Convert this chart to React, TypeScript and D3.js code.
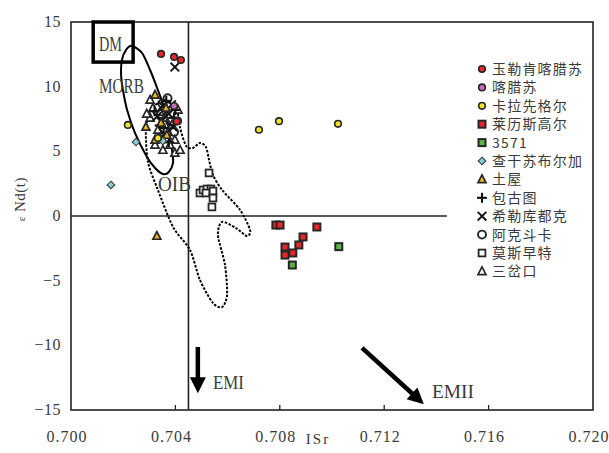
import React from "react";
import * as d3 from "d3";

// ISr vs εNd(t) diagram with mantle end-member fields
const W = 609;
const H = 453;

const xTicks = [0.7, 0.704, 0.708, 0.712, 0.716, 0.72];
const yTicks = [15, 10, 5, 0, -5, -10, -15];

type Pt = [number, number];

// sample groups: [ISr, εNd(t)]
const yulekenKalasu: Pt[] = [[0.70345, 12.53], [0.70395, 12.3], [0.70421, 12.06], [0.70405, 7.3]];
const kalasu: Pt[] = [[0.7041, 7.35], [0.70395, 8.5]];
const kalaxiangeer: Pt[] = [[0.70218, 7.04], [0.7072, 6.67], [0.70797, 7.33], [0.71023, 7.13], [0.70333, 6.03]];
const lailisigaoer: Pt[] = [[0.70785, -0.7], [0.70801, -0.7], [0.70942, -0.85], [0.70889, -1.62], [0.7082, -2.4], [0.70873, -2.24], [0.7082, -3.02], [0.7085, -2.86]];
const s3571: Pt[] = [[0.71026, -2.37], [0.70848, -3.79]];
const chagansubuerjia: Pt[] = [[0.70153, 2.4], [0.70249, 5.72], [0.70394, 8.5], [0.70352, 5.8]];
const tuwu: Pt[] = [[0.70322, 9.36], [0.70287, 6.88], [0.70364, 8.35], [0.70341, 6.03], [0.70322, 5.88], [0.70367, 6.26], [0.70329, -1.55], [0.70345, 7.2]];
const baogutu: Pt[] = [[0.70365, 8.9], [0.7034, 7.0], [0.70395, 7.6], [0.70355, 6.8], [0.70375, 5.7], [0.7032, 8.1], [0.704, 8.2]];
const xilekuduke: Pt[] = [[0.70398, 11.52], [0.70352, 8.5], [0.70375, 7.9], [0.70345, 7.3], [0.7039, 6.9], [0.7036, 6.3], [0.7033, 7.7], [0.70385, 8.6]];
const akedouka: Pt[] = [[0.7037, 9.1], [0.70345, 7.9], [0.7038, 7.3], [0.7036, 6.0], [0.70395, 6.5], [0.7035, 8.7]];
const mosizaote: Pt[] = [[0.70529, 3.33], [0.70494, 1.78], [0.70506, 2.01], [0.70521, 2.09], [0.70536, 2.09], [0.70544, 1.93], [0.70517, 1.78], [0.70544, 1.39], [0.7054, 0.7]];
const sanchakou: Pt[] = [[0.70314, 8.35], [0.70341, 8.04], [0.70303, 7.58], [0.7036, 7.58], [0.70387, 7.04], [0.70333, 6.65], [0.70372, 6.5], [0.70398, 5.88], [0.70352, 5.1], [0.70398, 4.87], [0.70379, 5.49], [0.70322, 5.49], [0.70418, 5.1], [0.7041, 8.2], [0.70303, 8.97], [0.7029, 7.9]];

type Shape = "circle" | "square" | "diamond" | "triangle" | "plus" | "x" | "ocircle" | "osquare" | "otriangle";

interface Series { name: string; shape: Shape; fill: string; data: Pt[] }

const seriesList: Series[] = [
  { name: "玉勒肯喀腊苏", shape: "circle", fill: "#e8262c", data: yulekenKalasu },
  { name: "喀腊苏", shape: "circle", fill: "#c86ac0", data: kalasu },
  { name: "卡拉先格尔", shape: "circle", fill: "#f2e42a", data: kalaxiangeer },
  { name: "莱历斯高尔", shape: "square", fill: "#e8262c", data: lailisigaoer },
  { name: "3571", shape: "square", fill: "#5cb444", data: s3571 },
  { name: "查干苏布尔加", shape: "diamond", fill: "#86cfd6", data: chagansubuerjia },
  { name: "土屋", shape: "triangle", fill: "#e9b820", data: tuwu },
  { name: "包古图", shape: "plus", fill: "none", data: baogutu },
  { name: "希勒库都克", shape: "x", fill: "none", data: xilekuduke },
  { name: "阿克斗卡", shape: "ocircle", fill: "#ffffff", data: akedouka },
  { name: "莫斯早特", shape: "osquare", fill: "#ffffff", data: mosizaote },
  { name: "三岔口", shape: "otriangle", fill: "#ffffff", data: sanchakou },
];

// field outlines
const morbField: Pt[] = [
  [0.70234, 13.15], [0.70272, 12.61], [0.70303, 11.29], [0.70333, 9.74], [0.7036, 8.2], [0.70375, 6.65],
  [0.70387, 5.1], [0.70391, 4.1], [0.70375, 3.4], [0.70352, 3.25], [0.70322, 3.71], [0.70291, 4.56],
  [0.70245, 6.42], [0.70215, 8.2], [0.70199, 9.74], [0.70192, 10.9], [0.70195, 12.06], [0.70211, 12.84],
];
const oibField: Pt[] = [
  [0.70303, 8.04], [0.70329, 8.66], [0.70372, 8.82], [0.70406, 8.2], [0.70418, 6.81], [0.70441, 5.41],
  [0.70467, 5.26], [0.70494, 5.65], [0.70517, 5.34], [0.70529, 4.33], [0.70544, 3.17], [0.70579, 2.01],
  [0.70648, 0.46], [0.70686, -1.08], [0.70674, -1.55], [0.70632, -0.93], [0.70579, -0.46], [0.70563, -1.47],
  [0.7059, -3.79], [0.70598, -6.11], [0.70579, -7.04], [0.70544, -6.73], [0.70494, -4.95], [0.70456, -2.63],
  [0.70391, -0.85], [0.70333, 2.01], [0.70295, 4.18], [0.70287, 6.65],
];
const dmBox: [Pt, Pt] = [[0.70085, 15.0], [0.70238, 11.9]];

const emiArrow: [Pt, Pt] = [[0.70486, -10.13], [0.70486, -13.7]];
const emiiArrow: [Pt, Pt] = [[0.71115, -10.2], [0.71352, -14.55]];

const x = d3.scaleLinear().domain([0.7, 0.72]).range([71, 593]);
const y = d3.scaleLinear().domain([-15, 15]).range([410, 22]);

const TEXT = "#3a3a3a";
const SERIF = "'Liberation Serif', 'DejaVu Serif', serif";
const CJK = "'Noto Sans CJK SC', sans-serif";
const STROKE = "#262626";

function Marker({ shape, fill, cx, cy }: { shape: Shape; fill: string; cx: number; cy: number }) {
  switch (shape) {
    case "circle":
      return <circle cx={cx} cy={cy} r={3.3} fill={fill} stroke={STROKE} strokeWidth={1.6} />;
    case "ocircle":
      return <circle cx={cx} cy={cy} r={4} fill="none" stroke={STROKE} strokeWidth={1.9} />;
    case "square":
      return <rect x={cx - 3.5} y={cy - 3.5} width={7} height={7} fill={fill} stroke={STROKE} strokeWidth={2} />;
    case "osquare":
      return <rect x={cx - 3.4} y={cy - 3.4} width={6.8} height={6.8} fill="#fff" stroke={STROKE} strokeWidth={1.8} />;
    case "diamond":
      return <path d={`M${cx},${cy - 3.8}L${cx + 3.8},${cy}L${cx},${cy + 3.8}L${cx - 3.8},${cy}Z`} fill={fill} stroke="#3a3a3a" strokeWidth={1.1} />;
    case "triangle":
      return <path d={`M${cx},${cy - 4.5}L${cx + 4},${cy + 3.2}L${cx - 4},${cy + 3.2}Z`} fill={fill} stroke={STROKE} strokeWidth={1.7} />;
    case "otriangle":
      return <path d={`M${cx},${cy - 4.5}L${cx + 4},${cy + 3.2}L${cx - 4},${cy + 3.2}Z`} fill="#fff" stroke={STROKE} strokeWidth={1.7} />;
    case "plus":
      return (
        <g stroke="#111" strokeWidth={2.1}>
          <line x1={cx - 5} x2={cx + 5} y1={cy} y2={cy} />
          <line x1={cx} x2={cx} y1={cy - 5} y2={cy + 5} />
        </g>
      );
    case "x":
      return (
        <g stroke="#111" strokeWidth={1.9}>
          <line x1={cx - 4.3} x2={cx + 4.3} y1={cy - 4.3} y2={cy + 4.3} />
          <line x1={cx - 4.3} x2={cx + 4.3} y1={cy + 4.3} y2={cy - 4.3} />
        </g>
      );
  }
  return null;
}

function Arrow({ seg }: { seg: [Pt, Pt] }) {
  const x1 = x(seg[0][0]), y1 = y(seg[0][1]);
  const x2 = x(seg[1][0]), y2 = y(seg[1][1]);
  const ang = Math.atan2(y2 - y1, x2 - x1);
  const headLen = 16, headHalf = 8;
  const bx = x2 - headLen * Math.cos(ang), by = y2 - headLen * Math.sin(ang);
  const px = -Math.sin(ang) * headHalf, py = Math.cos(ang) * headHalf;
  return (
    <g>
      <line x1={x1} y1={y1} x2={bx + Math.cos(ang) * 2} y2={by + Math.sin(ang) * 2} stroke="#000" strokeWidth={4.5} />
      <path d={`M${x2},${y2}L${bx + px},${by + py}L${bx - px},${by - py}Z`} fill="#000" />
    </g>
  );
}

export default function App() {
  const closed = d3
    .line<Pt>()
    .x((d) => x(d[0]))
    .y((d) => y(d[1]))
    .curve(d3.curveCardinalClosed.tension(0.2));

  const legendX = 482;
  const legendY0 = 69;
  const legendStep = 18.4;

  // draw order: the open symbols first, filled ones on top
  const drawOrder = [11, 10, 9, 8, 7, 6, 5, 4, 3, 2, 1, 0];

  return (
    <svg width={W} height={H} style={{ position: "absolute", left: 0, top: 0, background: "#fff" }}>
      <rect width={W} height={H} fill="#fff" />

      {/* frame */}
      <rect x={x(0.7)} y={y(15)} width={x(0.72) - x(0.7)} height={y(-15) - y(15)} fill="none" stroke="#222" strokeWidth={1.6} />

      {/* x ticks */}
      {xTicks.slice(1, -1).map((t) => (
        <line key={t} x1={x(t)} x2={x(t)} y1={y(-15)} y2={y(-15) - 5} stroke="#222" strokeWidth={1.3} />
      ))}
      {xTicks.map((t) => (
        <text key={t} x={x(t) - 4} y={442} textAnchor="middle" fontFamily={SERIF} fontSize={16} fill={TEXT} letterSpacing={1}>
          {d3.format(".3f")(t)}
        </text>
      ))}
      {yTicks.map((t) => (
        <text key={t} x={61} y={y(t) + 5} textAnchor="end" fontFamily={SERIF} fontSize={16} fill={TEXT} letterSpacing={0.5}>
          {t < 0 ? "\u2212" + Math.abs(t) : String(t)}
        </text>
      ))}

      {/* axis titles */}
      <text x={318} y={444} textAnchor="middle" fontFamily={SERIF} fontSize={15} fill={TEXT} letterSpacing={2}>
        ISr
      </text>
      <text transform={`translate(25,${y(1.3)}) rotate(-90)`} textAnchor="middle" fontFamily={SERIF} fontSize={15} fill={TEXT} letterSpacing={0.5}>
        <tspan fontSize={11}>ε</tspan> Nd(t)
      </text>

      {/* reference lines */}
      <line x1={x(0.7045)} x2={x(0.7045)} y1={y(15)} y2={y(-15)} stroke="#222" strokeWidth={1.6} />
      <line x1={x(0.7)} x2={x(0.7144)} y1={y(0)} y2={y(0)} stroke="#222" strokeWidth={1.6} />

      {/* fields */}
      <path d={closed(morbField) ?? ""} fill="none" stroke="#000" strokeWidth={2} />
      <path d={closed(oibField) ?? ""} fill="none" stroke="#000" strokeWidth={2} strokeDasharray="2.5,1.5" />
      <rect
        x={x(dmBox[0][0])}
        y={y(dmBox[0][1])}
        width={x(dmBox[1][0]) - x(dmBox[0][0])}
        height={y(dmBox[1][1]) - y(dmBox[0][1])}
        fill="none"
        stroke="#000"
        strokeWidth={3.5}
      />
      <text x={99} y={51} fontFamily={SERIF} fontSize={21} fill={TEXT} textLength={23} lengthAdjust="spacingAndGlyphs">DM</text>
      <text x={99} y={93} fontFamily={SERIF} fontSize={21} fill={TEXT} textLength={45} lengthAdjust="spacingAndGlyphs">MORB</text>
      <text x={158} y={191} fontFamily={SERIF} fontSize={21} fill={TEXT} textLength={33} lengthAdjust="spacingAndGlyphs">OIB</text>

      {/* arrows */}
      <Arrow seg={emiArrow} />
      <Arrow seg={emiiArrow} />
      <text x={213} y={389} fontFamily={SERIF} fontSize={19} fill={TEXT} textLength={31} lengthAdjust="spacingAndGlyphs">EMI</text>
      <text x={432} y={398} fontFamily={SERIF} fontSize={19} fill={TEXT} textLength={42} lengthAdjust="spacingAndGlyphs">EMII</text>

      {/* samples */}
      {drawOrder.map((i) => {
        const s = seriesList[i];
        return (
          <g key={s.name}>
            {s.data.map((d, j) => (
              <Marker key={j} shape={s.shape} fill={s.fill} cx={x(d[0])} cy={y(d[1])} />
            ))}
          </g>
        );
      })}

      {/* legend */}
      {seriesList.map((s, i) => {
        const cy = legendY0 + i * legendStep;
        return (
          <g key={s.name}>
            <Marker shape={s.shape} fill={s.fill} cx={legendX} cy={cy} />
            <text x={492} y={cy + 5} fontFamily={CJK} fontSize={14} fill={TEXT} letterSpacing={1.2}>
              {s.name}
            </text>
          </g>
        );
      })}
    </svg>
  );
}
